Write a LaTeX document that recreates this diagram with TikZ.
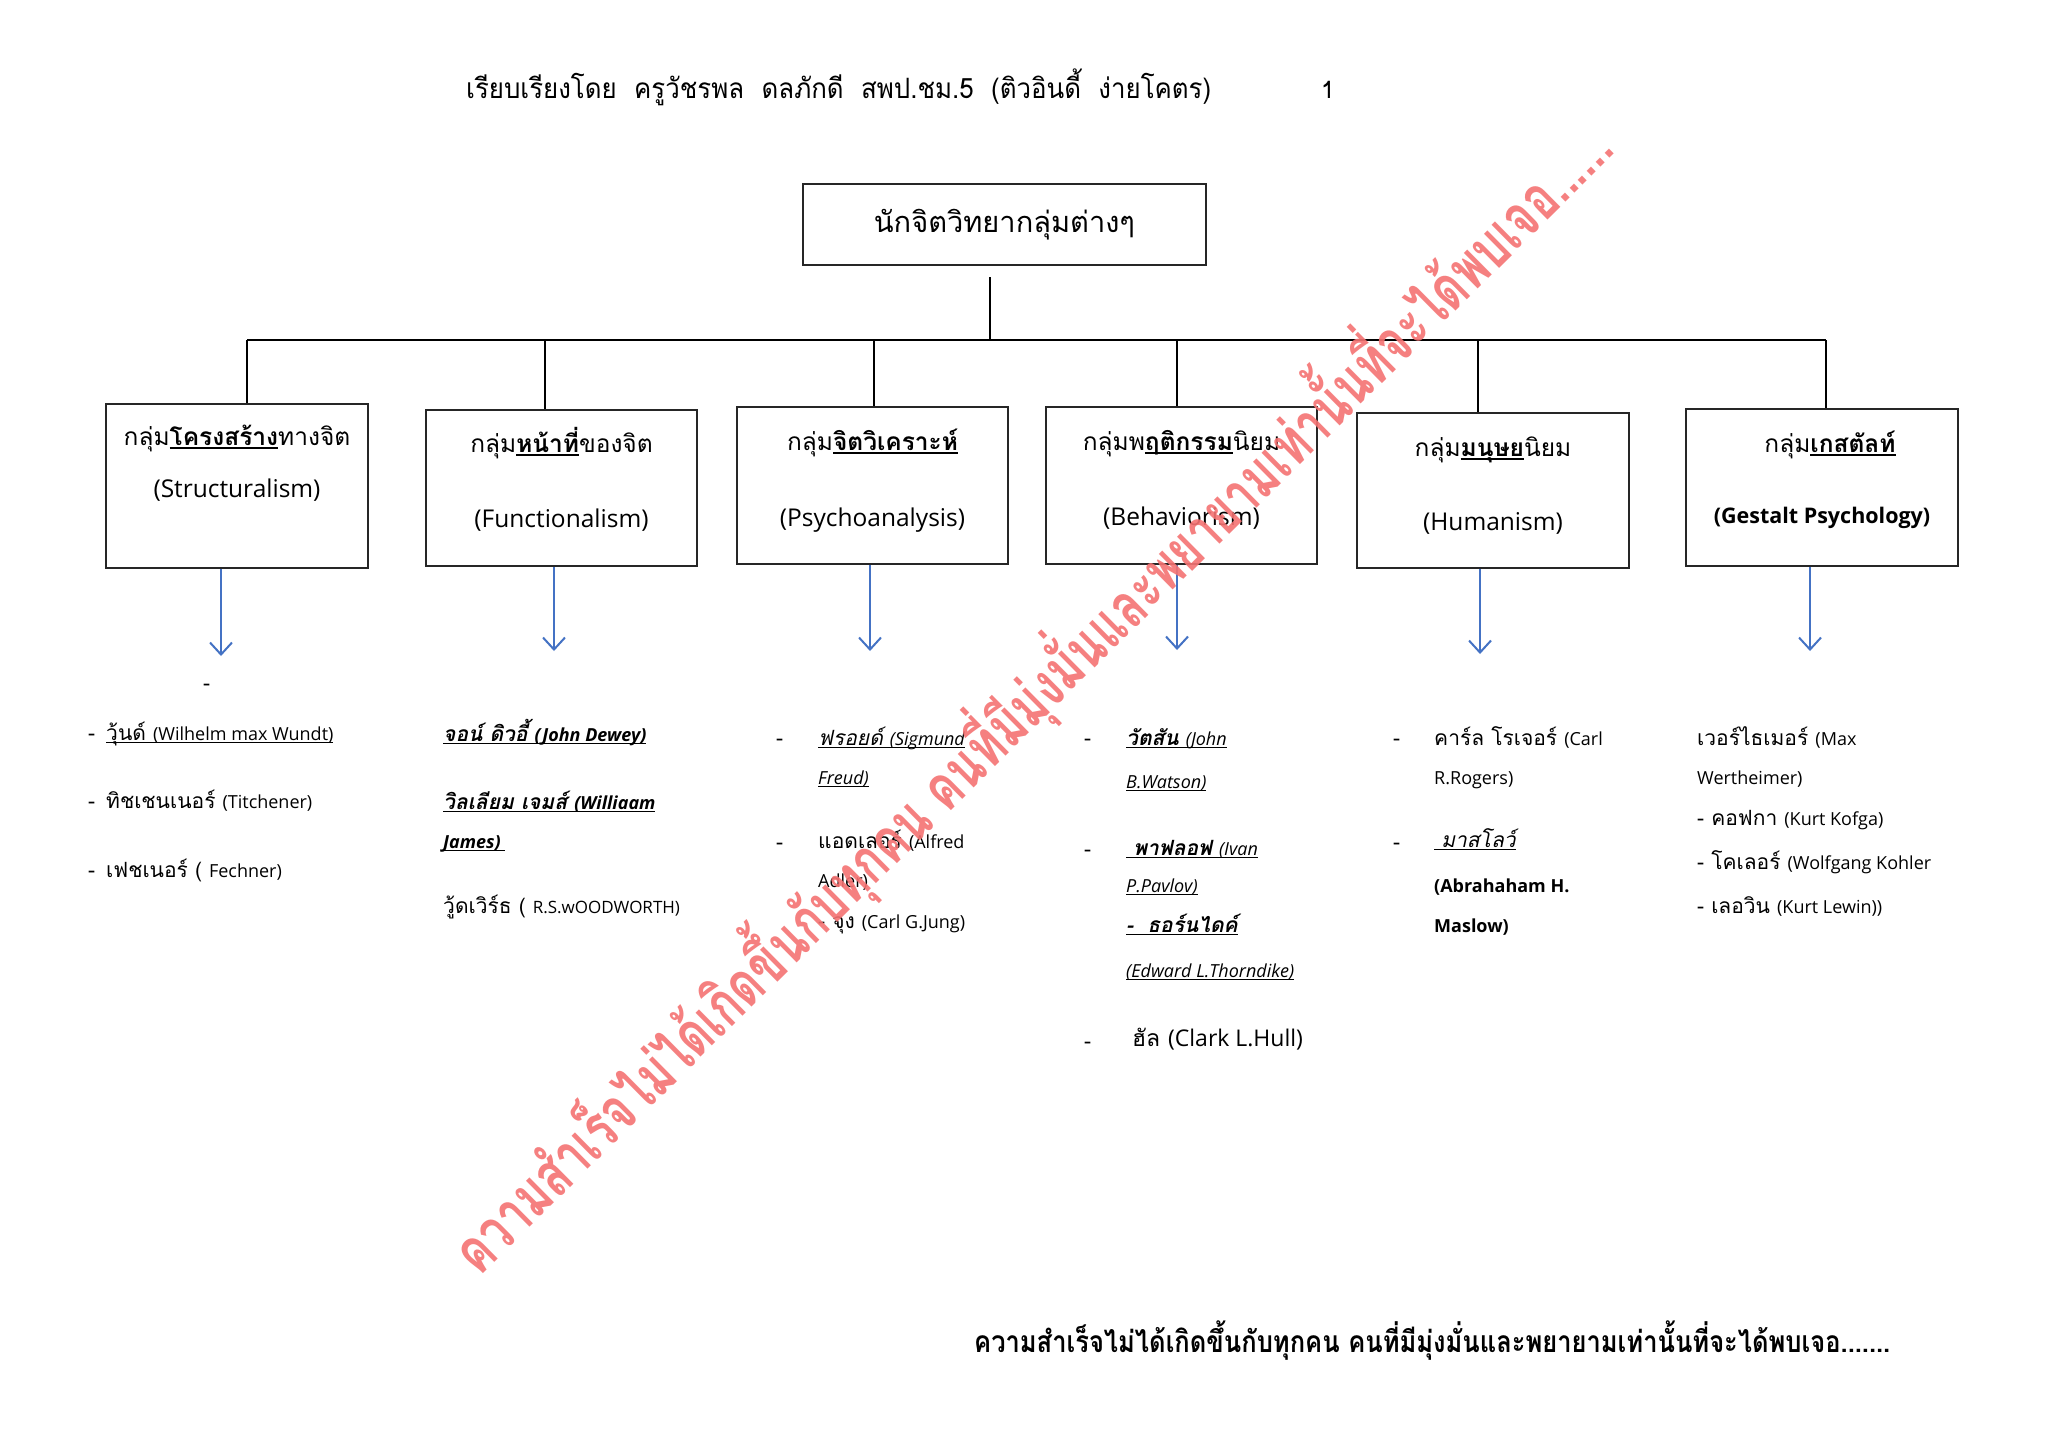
\documentclass[tikz,border=0pt]{standalone}
\usepackage{fontspec}
\setmainfont{Loma}[Script=Thai]
\newfontfamily\latf{Open Sans}
\usepackage{graphicx}
\usetikzlibrary{arrows.meta}
\definecolor{arrowblue}{RGB}{68,114,196}
\definecolor{wmred}{RGB}{245,115,115}
\newcommand\fs[1]{\fontsize{#1}{#1}\selectfont}
\newcommand\EN[1]{{\latf #1}}
\newcommand\uln[1]{\setbox0=\hbox{#1}\rlap{\rule[-0.16em]{\wd0}{0.06em}}\box0}
\tikzset{
  grp/.style={draw=black!85, line width=1.5pt, inner sep=0pt},
  txt/.style={anchor=base west, inner sep=0pt, font=\fs{21}},
  ctxt/.style={anchor=base, inner sep=0pt, font=\fs{24.5}},
  link/.style={line width=1.8pt, black},
  arr/.style={arrowblue, line width=2pt, -{Straight Barb[length=12pt, width=22pt, line width=2pt]}},
  wm/.style={text=wmred, inner sep=0pt, opacity=0.9}
}
\begin{document}
\begin{tikzpicture}[x=1pt, y=-1pt]
\fill[white] (0,0) rectangle (2048,1448);
\useasboundingbox (0,0) rectangle (2048,1448);

% header
\node[txt, font=\fs{28}] (hdr) at (466,98) {\resizebox{745pt}{\height}{เรียบเรียงโดย~~ครูวัชรพล~~ดลภักดี~~สพป.ชม.5~~(ติวอินดี้~~ง่ายโคตร)}};
\node[txt, font=\fs{24}] (pg) at (1321,98) {1};

% title
\node[grp, minimum width=403pt, minimum height=81pt, font=\fs{29}] (title) at (1004.5,224.5) {นักจิตวิทยากลุ่มต่างๆ};

% group boxes
\node[grp, minimum width=262pt, minimum height=164pt] (b1) at (237,486) {};
\node[grp, minimum width=271pt, minimum height=156pt] (b2) at (561.5,488) {};
\node[grp, minimum width=271pt, minimum height=157pt] (b3) at (872.5,485.5) {};
\node[grp, minimum width=271pt, minimum height=157pt] (b4) at (1181.5,485.5) {};
\node[grp, minimum width=272pt, minimum height=155pt] (b5) at (1493,490.5) {};
\node[grp, minimum width=272pt, minimum height=157pt] (b6) at (1822,487.5) {};

% box texts
\node[ctxt] (t1a) at (237,445) {กลุ่ม\uln{\bfseries โครงสร้าง}ทางจิต};
\node[ctxt] (t1b) at (237,497) {\EN{(Structuralism)}};
\node[ctxt] (t2a) at (561.5,452) {กลุ่ม\uln{\bfseries หน้าที่}ของจิต};
\node[ctxt] (t2b) at (561.5,527) {\EN{(Functionalism)}};
\node[ctxt] (t3a) at (872.5,450) {กลุ่ม\uln{\bfseries จิตวิเคราะห์}};
\node[ctxt] (t3b) at (872.5,526) {\EN{(Psychoanalysis)}};
\node[ctxt] (t4a) at (1181.5,450) {กลุ่มพ\uln{\bfseries ฤติกรรม}นิยม};
\node[ctxt] (t4b) at (1181.5,525) {\EN{(Behaviorism)}};
\node[ctxt] (t5a) at (1493,456) {กลุ่ม\uln{\bfseries มนุษย}นิยม};
\node[ctxt] (t5b) at (1493,530) {\EN{(Humanism)}};
\node[ctxt] (t6a) at (1830,452) {กลุ่ม\uln{\bfseries เกสตัลท์}};
\node[ctxt, font=\fs{21.5}\bfseries] (t6b) at (1822,523) {\EN{(Gestalt Psychology)}};

% tree connectors
\coordinate (tstem) at (990,277);
\coordinate (tj) at (990,340);
\coordinate (hl) at (247,340);
\coordinate (hr) at (1826,340);
\coordinate (d2) at (545,340);
\coordinate (d3) at (874,340);
\coordinate (d4) at (1177,340);
\coordinate (d5) at (1478,340);
\draw[link] (tstem) -- (tj);
\draw[link] (hl) -- (hr);
\draw[link] (hl) -- (hl |- b1.north);
\draw[link] (d2) -- (d2 |- b2.north);
\draw[link] (d3) -- (d3 |- b3.north);
\draw[link] (d4) -- (d4 |- b4.north);
\draw[link] (d5) -- (d5 |- b5.north);
\draw[link] (hr) -- (hr |- b6.north);

% blue arrows
\coordinate (a1) at (221,656);
\coordinate (a2) at (554,651);
\coordinate (a3) at (870,651);
\coordinate (a4) at (1177,650);
\coordinate (a5) at (1480,654);
\coordinate (a6) at (1810,651);
\draw[arr] (a1 |- b1.south) -- (a1);
\draw[arr] (a2 |- b2.south) -- (a2);
\draw[arr] (a3 |- b3.south) -- (a3);
\draw[arr] (a4 |- b4.south) -- (a4);
\draw[arr] (a5 |- b5.south) -- (a5);
\draw[arr] (a6 |- b6.south) -- (a6);

% column 1
\node[txt] (c1d0) at (203,690) {-};
\node[txt] (c1d1) at (88,740) {-};
\node[txt] (c1a) at (106,740) {\uln{วุ้นด์ {\fs{18}\EN{(Wilhelm max Wundt)}}}};
\node[txt] (c1d2) at (88,808) {-};
\node[txt] (c1b) at (106,808) {ทิชเชนเนอร์ {\fs{18}\EN{(Titchener)}}};
\node[txt] (c1d3) at (88,877) {-};
\node[txt] (c1c) at (106,877) {เฟชเนอร์ ( {\fs{18}\EN{Fechner)}}};

% column 2
\node[txt] (c2a) at (443,741) {\uln{\bfseries\itshape จอน์ ดิวอี้ {\fs{18}\EN{(John Dewey)}}}};
\node[txt] (c2b) at (443,809) {\uln{\bfseries\itshape วิลเลียม เจมส์ {\fs{18}\EN{(Williaam}}}};
\node[txt] (c2c) at (443,848) {\uln{\bfseries\itshape\fs{18}\EN{James)~}}};
\node[txt] (c2d) at (443,913) {วู้ดเวิร์ธ ( {\fs{17}\EN{R.S.wOODWORTH)}}};

% column 3
\node[txt] (c3d1) at (776,745) {-};
\node[txt] (c3a) at (818,745) {\uln{\itshape ฟรอยด์ {\fs{18}\EN{(Sigmund}}}};
\node[txt] (c3b) at (818,784) {\uln{\itshape\fs{18}\EN{Freud)}}};
\node[txt] (c3d2) at (776,849) {-};
\node[txt] (c3c) at (818,848) {แอดเลอร์ {\fs{18}\EN{(Alfred}}};
\node[txt] (c3e) at (818,887) {{\fs{18}\EN{Adler)}}};
\node[txt] (c3f) at (818,928) {- จุง {\fs{18}\EN{(Carl G.Jung)}}};

% column 4
\node[txt] (c4d1) at (1084,745) {-};
\node[txt] (c4a) at (1126,745) {\uln{{\bfseries\itshape วัตสัน} {\itshape\fs{18}\EN{(John}}}};
\node[txt] (c4b) at (1126,788) {\uln{\itshape\fs{18}\EN{B.Watson)}}};
\node[txt] (c4d2) at (1084,856) {-};
\node[txt] (c4c) at (1126,855) {\uln{{\bfseries\itshape ~พาฟลอฟ} {\itshape\fs{18}\EN{(Ivan}}}};
\node[txt] (c4e) at (1126,892) {\uln{\itshape\fs{18}\EN{P.Pavlov)}}};
\node[txt] (c4f) at (1126,932) {\uln{\bfseries\itshape -~~ธอร์นไดค์}};
\node[txt] (c4g) at (1126,977) {\uln{\itshape\fs{18}\EN{(Edward L.Thorndike)}}};
\node[txt] (c4d3) at (1084,1048) {-};
\node[txt, font=\fs{23}] (c4h) at (1132,1046) {ฮัล \EN{(Clark L.Hull)}};

% column 5
\node[txt] (c5d1) at (1393,745) {-};
\node[txt] (c5a) at (1434,745) {คาร์ล โรเจอร์ {\fs{18}\EN{(Carl}}};
\node[txt] (c5b) at (1434,784) {{\fs{18}\EN{R.Rogers)}}};
\node[txt] (c5d2) at (1393,849) {-};
\node[txt] (c5c) at (1434,847) {\uln{\itshape ~มาสโลว์}};
\node[txt] (c5e) at (1434,892) {{\bfseries\fs{18}\EN{(Abrahaham H.}}};
\node[txt] (c5f) at (1434,932) {{\bfseries\fs{18}\EN{Maslow)}}};

% column 6
\node[txt] (c6a) at (1697,745) {เวอร์ไธเมอร์ {\fs{18}\EN{(Max}}};
\node[txt] (c6b) at (1697,784) {{\fs{18}\EN{Wertheimer)}}};
\node[txt] (c6c) at (1697,825) {- คอฟกา {\fs{18}\EN{(Kurt Kofga)}}};
\node[txt] (c6d) at (1697,869) {- โคเลอร์ {\fs{18}\EN{(Wolfgang Kohler}}};
\node[txt] (c6e) at (1697,913) {- เลอวิน {\fs{18}\EN{(Kurt Lewin))}}};

% bottom slogan
\node[txt, font=\fs{30}\bfseries] (slogan) at (974,1352) {\resizebox{916pt}{\height}{ความสำเร็จไม่ได้เกิดขึ้นกับทุกคน คนที่มีมุ่งมั่นและพยายามเท่านั้นที่จะได้พบเจอ.......}};

% watermark
\node[wm, rotate=44.7] (wmark) at (1030,697) {\resizebox{1600pt}{!}{\scalebox{1}[1.4]{\fs{60}\bfseries ความสำเร็จไม่ได้เกิดขึ้นกับทุกคน คนที่มีมุ่งมั่นและพยายามเท่านั้นที่จะได้พบเจอ......}}};
\end{tikzpicture}
\end{document}
